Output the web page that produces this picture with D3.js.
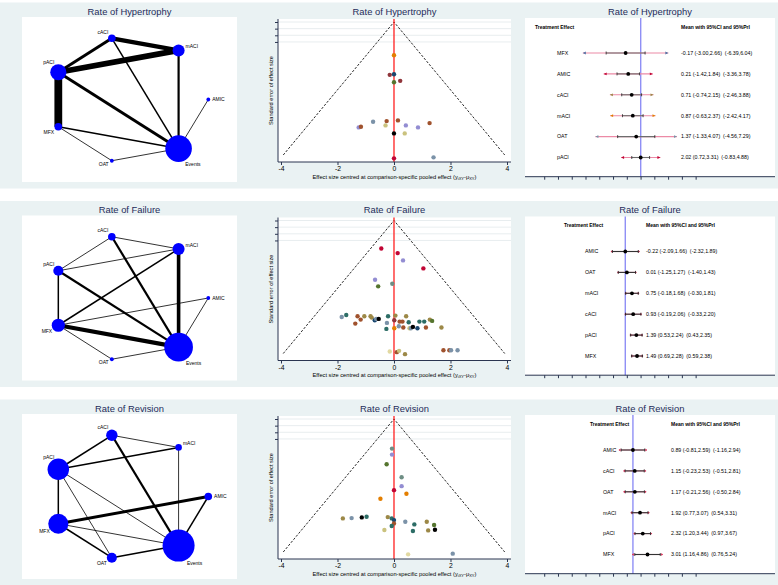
<!DOCTYPE html>
<html>
<head>
<meta charset="utf-8">
<script src="https://cdn.jsdelivr.net/npm/d3@7"></script>
<style>
  body { margin: 0; background: #fff; }
  svg { display: block; font-family: Arial, "Liberation Sans", sans-serif; }
  .pre { white-space: pre; }
</style>
</head>
<body>
<div id="chart"></div>
<script>
// ---- data ----
var panelTitles = ['Rate of Hypertrophy', 'Rate of Failure', 'Rate of Revision'];

// network nodes, around the circle starting from the right
var nodeNames = ['AMIC', 'mACI', 'cACI', 'pACI', 'MFX', 'OAT', 'Events'];
var hypNodeN = [1, 10, 4, 18, 4, 1, 49];
var failNodeN = [1, 10, 4, 7, 12, 1, 57];
var revNodeN = [4, 3, 9, 32, 28, 7, 71];

var hypEdges = [
    ['cACI', 'mACI', 6], ['cACI', 'pACI', 4], ['cACI', 'Events', 2], ['mACI', 'pACI', 8],
    ['mACI', 'Events', 3], ['pACI', 'MFX', 11], ['pACI', 'Events', 4], ['MFX', 'Events', 2],
    ['MFX', 'OAT', 1], ['OAT', 'Events', 1], ['AMIC', 'Events', 1]
];
var failEdges = [
    ['cACI', 'mACI', 1], ['cACI', 'pACI', 1], ['cACI', 'Events', 3], ['mACI', 'pACI', 1],
    ['mACI', 'MFX', 2], ['mACI', 'Events', 5], ['pACI', 'MFX', 2], ['pACI', 'Events', 3],
    ['MFX', 'AMIC', 1], ['MFX', 'Events', 6], ['MFX', 'OAT', 1], ['OAT', 'Events', 1],
    ['AMIC', 'Events', 1]
];
var revEdges = [
    ['cACI', 'mACI', 1], ['cACI', 'pACI', 2], ['cACI', 'Events', 3], ['mACI', 'pACI', 2],
    ['mACI', 'Events', 1], ['pACI', 'MFX', 2], ['pACI', 'OAT', 1], ['pACI', 'Events', 1],
    ['MFX', 'AMIC', 4], ['MFX', 'OAT', 2], ['MFX', 'Events', 1], ['OAT', 'Events', 2],
    ['AMIC', 'Events', 2]
];

// funnel plots: [centred effect, standard error, colour]
var hypFunnel = [
    [0, 0.50, 'dkorange'], [0, 0.785, 'navy'], [-0.15, 0.795, 'maroon'], [0.22, 0.885, 'maroon'],
    [0, 0.905, 'forest'], [-0.74, 1.50, 'emidblue'], [-0.26, 1.49, 'sienna'], [0.14, 1.48, 'sienna'],
    [1.26, 1.52, 'sienna'], [-0.30, 1.555, 'khaki'], [0.42, 1.555, 'lavender'], [0.85, 1.585, 'lavender'],
    [-1.25, 1.585, 'lavender'], [-1.17, 1.575, 'sienna'], [0, 1.675, 'black'], [0.38, 1.675, 'khaki'],
    [0, 2.05, 'cranberry'], [1.40, 2.035, 'emidblue']
];
var failFunnel = [
    [-0.45, 0.42, 'cranberry'], [0.13, 0.49, 'cranberry'], [0.32, 0.60, 'lavender'], [1.04, 0.72, 'cranberry'],
    [-0.67, 0.89, 'lavender'], [-0.56, 0.99, 'forest'], [-0.06, 0.95, 'teal'],
    [-1.85, 1.45, 'emidblue'], [-1.69, 1.42, 'emerald'], [-1.29, 1.44, 'sienna'], [-1.18, 1.49, 'sienna'],
    [-1.05, 1.44, 'brown'], [-0.83, 1.44, 'brown'], [-0.79, 1.46, 'brown'], [-1.37, 1.55, 'sienna'],
    [-0.68, 1.50, 'navy'], [-0.63, 1.48, 'emidblue'], [-0.54, 1.48, 'black'], [-0.21, 1.44, 'emerald'],
    [-0.25, 1.54, 'emidblue'], [-0.27, 1.63, 'emerald'], [0.05, 1.43, 'brown'], [0.01, 1.50, 'maroon'],
    [0.20, 1.52, 'sienna'], [0.30, 1.52, 'sienna'], [0.43, 1.44, 'brown'], [0.52, 1.53, 'emerald'],
    [0.01, 1.62, 'dkorange'], [0.17, 1.59, 'emidblue'], [0.33, 1.61, 'sienna'], [0.55, 1.62, 'khaki'],
    [0.60, 1.62, 'emidblue'], [0.67, 1.60, 'black'], [0.83, 1.62, 'navy'], [0.90, 1.52, 'emerald'],
    [1.07, 1.52, 'emerald'], [1.13, 1.61, 'sienna'], [1.27, 1.49, 'brown'], [1.35, 1.51, 'forest'],
    [1.68, 1.61, 'brown'], [-0.15, 1.97, 'lkhaki'], [0.10, 1.98, 'sienna'], [0.18, 1.96, 'khaki'],
    [0.39, 2.01, 'brown'], [1.75, 1.95, 'sienna'], [1.96, 1.95, 'sienna'], [2.02, 1.95, 'emidblue'],
    [2.25, 1.95, 'emidblue']
];
var revFunnel = [
    [-0.07, 0.445, 'teal'], [-0.07, 0.535, 'lavender'], [-0.26, 0.68, 'forest'], [0.27, 0.875, 'teal'],
    [0.27, 1.01, 'lavender'], [0, 1.07, 'cranberry'], [0.44, 1.125, 'dkorange'], [-0.48, 1.20, 'dkorange'],
    [-1.81, 1.495, 'brown'], [-1.50, 1.49, 'emidblue'], [-1.14, 1.48, 'black'], [-0.97, 1.47, 'emerald'],
    [-0.22, 1.475, 'brown'], [-0.08, 1.495, 'emerald'], [0, 1.52, 'navy'], [0, 1.57, 'sienna'],
    [-0.08, 1.61, 'emerald'], [0.40, 1.545, 'emidblue'], [0.72, 1.585, 'emerald'], [1.16, 1.545, 'brown'],
    [1.42, 1.595, 'forest'], [-0.34, 1.67, 'khaki'], [0.67, 1.685, 'emerald'], [1.21, 1.675, 'brown'],
    [1.45, 1.665, 'black'], [0.50, 2.035, 'lkhaki'], [2.08, 2.025, 'emidblue']
];
var funnelXTicks = [-4, -2, 0, 2, 4];
var funnelYTicks = [0, 0.1, 0.2, 0.3];

// forest plots
var hypTreat = ['MFX', 'AMIC', 'cACI', 'mACI', 'OAT', 'pACI'];
var hypMean = [-0.17, 0.21, 0.71, 0.87, 1.37, 2.02];
var hypCI = [[-3.00, 2.66], [-1.42, 1.84], [-0.74, 2.15], [-0.63, 2.37], [-1.33, 4.07], [0.72, 3.31]];
var hypPrI = [[-6.39, 6.04], [-3.36, 3.78], [-2.46, 3.88], [-2.42, 4.17], [-4.56, 7.29], [-0.83, 4.88]];

var failTreat = ['AMIC', 'OAT', 'mACI', 'cACI', 'pACI', 'MFX'];
var failMean = [-0.22, 0.01, 0.75, 0.93, 1.39, 1.49];
var failCI = [[-2.09, 1.66], [-1.25, 1.27], [-0.18, 1.68], [-0.19, 2.06], [0.53, 2.24], [0.69, 2.28]];
var failPrI = [[-2.32, 1.89], [-1.40, 1.43], [-0.30, 1.81], [-0.33, 2.20], [0.43, 2.35], [0.59, 2.38]];

var revTreat = ['AMIC', 'cACI', 'OAT', 'mACI', 'pACI', 'MFX'];
var revMean = [0.89, 1.15, 1.17, 1.92, 2.32, 3.01];
var revCI = [[-0.81, 2.59], [-0.23, 2.53], [-0.21, 2.56], [0.77, 3.07], [1.20, 3.44], [1.16, 4.86]];
var revPrI = [[-1.16, 2.94], [-0.51, 2.81], [-0.50, 2.84], [0.54, 3.31], [0.97, 3.67], [0.76, 5.24]];

var forestRefLine = [2.02, -0.22, 0.89];
var forestTicks = d3.range(-12, 11, 2);

// ---- styles ----
var stataColors = {
    navy: '#1a476f', maroon: '#90353b', forest: '#55752f', dkorange: '#e37e00', teal: '#6e8e84',
    cranberry: '#c10534', lavender: '#938dd2', khaki: '#cac27e', sienna: '#a0522d', emidblue: '#7b92a8',
    emerald: '#2d6d66', brown: '#9c8847', black: '#000000', lkhaki: '#e2d9a2'
};
var bgColor = '#eaf2f3',
    titleColor = '#1e2c5a';

var W = 778, H = 585;
var rowTops = [2, 200.5, 399];

var svg = d3.select('#chart').append('svg').attr('width', W).attr('height', H);

function title(g, text, cx) {
    g.append('text').attr('x', cx).attr('y', 12.5).attr('text-anchor', 'middle')
        .attr('font-size', 9.4).attr('fill', titleColor).text(text);
}

// label placement around the node, by node
var labelPos = {
    AMIC:   function (r) { return ['start', r + 2, 0]; },
    mACI:   function (r) { return ['start', r + 1, -4]; },
    cACI:   function (r) { return ['end', -3.5, -(r + 2.5)]; },
    pACI:   function (r) { return ['end', -4, -(r + 1.5)]; },
    MFX:    function (r) { return ['end', -(0.7 * r + 1.5), 0.4 * r + 3.5]; },
    OAT:    function (r) { return ['end', -(0.6 * r + 2), 0.9 * r + 1.5]; },
    Events: function (r) { return ['start', 0.6 * r - 1.3, r + 2]; }
};

function drawNetwork(g, name, nodeN, edges) {
    g.append('rect').attr('x', 22).attr('y', 15).attr('width', 215).attr('height', 165).attr('fill', '#fff');
    title(g, name, 129.5);

    var rScale = d3.scaleSqrt().domain([0, 49]).range([0, 13.3]);
    var wScale = d3.scaleLinear().domain([1, 11]).range([0.8, 7.8]);
    var ang = d3.scaleLinear().domain([0, nodeNames.length]).range([0, 2 * Math.PI]);
    var x = d3.scaleLinear().domain([-1, 1]).range([50.5, 208.3]);
    var y = d3.scaleLinear().domain([-1, 1]).range([160.3, 34.7]);

    var pos = {};
    nodeNames.forEach(function (n, i) {
        pos[n] = [x(Math.cos(ang(i))), y(Math.sin(ang(i))), rScale(nodeN[i])];
    });

    g.selectAll('line.edge').data(edges).enter().append('line')
        .attr('class', 'edge')
        .attr('x1', function (d) { return pos[d[0]][0]; })
        .attr('y1', function (d) { return pos[d[0]][1]; })
        .attr('x2', function (d) { return pos[d[1]][0]; })
        .attr('y2', function (d) { return pos[d[1]][1]; })
        .attr('stroke', '#000')
        .attr('stroke-width', function (d) { return wScale(d[2]); });

    g.selectAll('circle.node').data(nodeNames).enter().append('circle')
        .attr('class', 'node')
        .attr('cx', function (d) { return pos[d][0]; })
        .attr('cy', function (d) { return pos[d][1]; })
        .attr('r', function (d) { return pos[d][2]; })
        .attr('fill', '#0000ff');

    g.selectAll('text.lab').data(nodeNames).enter().append('text')
        .attr('class', 'lab')
        .each(function (d) {
            var p = labelPos[d](pos[d][2]);
            d3.select(this).attr('text-anchor', p[0])
                .attr('x', pos[d][0] + p[1]).attr('y', pos[d][1] + p[2]);
        })
        .attr('dy', '0.35em')
        .attr('font-size', 5).attr('fill', '#000')
        .text(function (d) { return d; });
}

function drawFunnel(g, name, pts) {
    var left = 278, right = 511, top = 17, bottom = 160;
    var x = d3.scaleLinear().domain([-4.106, 4.142]).range([left, right]);
    var y = d3.scaleLinear().domain([0, 2]).range([20, 153]);

    g.append('rect').attr('x', left).attr('y', top).attr('width', right - left).attr('height', bottom - top)
        .attr('fill', '#fff');
    title(g, name, (left + right) / 2);

    g.selectAll('line.grid').data(funnelYTicks).enter().append('line')
        .attr('x1', left).attr('x2', right)
        .attr('y1', function (d) { return y(d); }).attr('y2', function (d) { return y(d); })
        .attr('stroke', '#e2e8eb').attr('stroke-width', 0.8);

    // pseudo confidence region
    var seMax = 2;
    g.append('path')
        .attr('d', d3.line()([[x(-1.96 * seMax), y(seMax)], [x(0), y(0)], [x(1.96 * seMax), y(seMax)]]))
        .attr('fill', 'none').attr('stroke', '#111').attr('stroke-width', 0.9).attr('stroke-dasharray', '2.4,1.6');

    g.append('line').attr('x1', x(0)).attr('x2', x(0)).attr('y1', top).attr('y2', bottom)
        .attr('stroke', '#ff2020').attr('stroke-width', 1.3);

    g.selectAll('circle.pt').data(pts).enter().append('circle')
        .attr('cx', function (d) { return x(d[0]); })
        .attr('cy', function (d) { return y(d[1]); })
        .attr('r', 2.2)
        .attr('fill', function (d) { return stataColors[d[2]]; });

    var xAxis = g.append('g').attr('transform', 'translate(0,' + bottom + ')')
        .call(d3.axisBottom(x).tickValues(funnelXTicks).tickSize(3).tickPadding(1.5)
            .tickFormat(function (d) { return d < 0 ? '-' + Math.abs(d) : d; }));
    xAxis.select('.domain').attr('d', 'M' + left + ',0H' + right).attr('stroke', '#2a3550');
    xAxis.selectAll('text').attr('font-size', 6.8).attr('fill', '#000').attr('font-family', null);
    xAxis.selectAll('.tick line').attr('stroke', '#2a3550');

    var yAxis = g.append('g').attr('transform', 'translate(' + left + ',0)')
        .call(d3.axisLeft(y).tickValues(funnelYTicks).tickSize(3).tickFormat(''));
    yAxis.select('.domain').attr('d', 'M0,' + top + 'V' + bottom).attr('stroke', '#2a3550');
    yAxis.selectAll('.tick line').attr('stroke', '#2a3550');

    g.append('text').attr('transform', 'translate(270.7,' + (top + bottom) / 2 + ') rotate(-90)')
        .attr('text-anchor', 'middle').attr('dy', '0.35em').attr('font-size', 5.6)
        .text('Standard error of effect size');

    var xt = g.append('text').attr('x', (left + right) / 2).attr('y', 176.5).attr('text-anchor', 'middle')
        .attr('font-size', 5.7);
    xt.append('tspan').text('Effect size centred at comparison-specific pooled effect (y');
    xt.append('tspan').attr('font-size', 4).attr('dy', 1.3).text('iXY');
    xt.append('tspan').attr('dy', -1.3).text('-\u03bc');
    xt.append('tspan').attr('font-size', 4).attr('dy', 1.3).text('XY');
    xt.append('tspan').attr('dy', -1.3).text(')');
}

var fmt = function (v) { return d3.format('.2f')(v).replace('\u2212', '-'); };

function drawForest(g, name, treat, mean, ci, pri, refVal, opt) {
    var left = 525, right = 775, top = 16, axisY = 174.7;
    var x = d3.scaleLinear().domain([0, 1]).range([626.8, 633.683]);
    var y = d3.scalePoint().domain(treat).range([51, 155.5]);
    var cols = opt.cols, ah = opt.arrowLen;

    g.append('rect').attr('x', left).attr('y', top).attr('width', right - left).attr('height', axisY - top)
        .attr('fill', '#fff');
    title(g, name, (left + right) / 2);

    g.append('line').attr('x1', x(refVal)).attr('x2', x(refVal)).attr('y1', top).attr('y2', axisY)
        .attr('stroke', '#8f8ff5').attr('stroke-width', 1.4);

    var axis = g.append('g').attr('transform', 'translate(0,' + axisY + ')')
        .call(d3.axisBottom(x).tickValues(forestTicks).tickSize(3).tickFormat(''));
    axis.select('.domain').attr('d', 'M' + left + ',0H' + right).attr('stroke', '#2a3550');
    axis.selectAll('.tick line').attr('stroke', '#2a3550');

    g.append('text').attr('x', cols[0]).attr('y', 25).attr('dy', '0.35em')
        .attr('font-size', 5).attr('font-weight', 'bold').text('Treatment Effect');
    g.append('text').attr('x', cols[2]).attr('y', 25).attr('dy', '0.35em')
        .attr('font-size', 5).attr('font-weight', 'bold').text('Mean with 95%CI and 95%PrI');

    var rows = g.selectAll('g.row').data(treat).enter().append('g').attr('class', 'row')
        .attr('transform', function (d) { return 'translate(0,' + y(d) + ')'; });

    rows.append('line')
        .attr('x1', function (d, i) { return x(pri[i][0]); })
        .attr('x2', function (d, i) { return x(pri[i][1]); })
        .attr('stroke', '#ec8aa6').attr('stroke-width', 1.1);
    rows.append('path')
        .attr('d', function (d, i) {
            var a = x(pri[i][0]), b = x(pri[i][1]);
            return 'M' + a + ',0l' + ah + ',-1.4v2.8z' + 'M' + b + ',0l-' + ah + ',-1.4v2.8z';
        })
        .attr('fill', function (d, i) { return opt.arrows[i]; });
    rows.append('line')
        .attr('x1', function (d, i) { return x(ci[i][0]); })
        .attr('x2', function (d, i) { return x(ci[i][1]); })
        .attr('stroke', opt.ciColor).attr('stroke-width', 1.1);
    rows.append('path')
        .attr('d', function (d, i) {
            return 'M' + x(ci[i][0]) + ',-1.5v3M' + x(ci[i][1]) + ',-1.5v3';
        })
        .attr('stroke', '#222').attr('stroke-width', 0.8);
    rows.append('circle')
        .attr('cx', function (d, i) { return x(mean[i]); })
        .attr('r', 1.9).attr('fill', '#000');

    rows.append('text').attr('x', cols[1]).attr('dy', '0.35em').attr('font-size', 5.3)
        .text(function (d) { return d; });
    rows.append('text').attr('class', 'pre').attr('x', cols[2]).attr('dy', '0.35em').attr('font-size', 5.3)
        .text(function (d, i) {
            return fmt(mean[i]) + ' (' + fmt(ci[i][0]) + ',' + fmt(ci[i][1]) + ')  (' +
                fmt(pri[i][0]) + ',' + fmt(pri[i][1]) + ')';
        });
}

var redArrows = d3.range(6).map(function () { return '#d0284e'; });
var rows = [
    { net: [hypNodeN, hypEdges], funnel: hypFunnel, forest: [hypTreat, hypMean, hypCI, hypPrI],
      opt: { cols: [535, 557, 681], arrowLen: 3, ciColor: '#6d6d6d',
             arrows: ['#4d6fa3', '#c10534', '#9c8847', '#e37e00', '#7b92a8', '#c10534'] } },
    { net: [failNodeN, failEdges], funnel: failFunnel, forest: [failTreat, failMean, failCI, failPrI],
      opt: { cols: [564, 585, 646], arrowLen: 1.6, ciColor: '#333', arrows: redArrows } },
    { net: [revNodeN, revEdges], funnel: revFunnel, forest: [revTreat, revMean, revCI, revPrI],
      opt: { cols: [590, 603, 671], arrowLen: 1.6, ciColor: '#333', arrows: redArrows } }
];

rows.forEach(function (r, i) {
    var g = svg.append('g').attr('transform', 'translate(0,' + rowTops[i] + ')');
    g.append('rect').attr('x', 0).attr('y', 0.5).attr('width', W).attr('height', 186).attr('fill', bgColor);
    drawNetwork(g.append('g'), panelTitles[i], r.net[0], r.net[1]);
    drawFunnel(g.append('g'), panelTitles[i], r.funnel);
    var f = r.forest;
    drawForest(g.append('g'), panelTitles[i], f[0], f[1], f[2], f[3], forestRefLine[i], r.opt);
});
</script>
</body>
</html>
